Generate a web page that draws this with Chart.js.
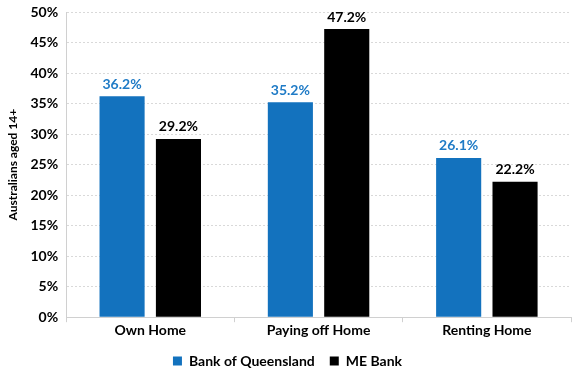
<!DOCTYPE html>
<html>
<head>
<meta charset="utf-8">
<script src="https://cdn.jsdelivr.net/npm/chart.js@4/dist/chart.umd.min.js"></script>
<style>
  html, body { margin: 0; padding: 0; background: #fff; }
  #wrap { width: 579px; height: 377px; }
</style>
</head>
<body>
<div id="wrap"><canvas id="homeChart"></canvas></div>
<script>
"use strict";
// values
let categories = ["Own Home", "Paying off Home", "Renting Home"];
let boqValues = [36.2, 35.2, 26.1];
let meValues = [29.2, 47.2, 22.2];
let seriesNames = ["Bank of Queensland", "ME Bank"];

let fontName = "Lato, 'Open Sans', sans-serif";

// draws the value above every bar, coloured like its series
let barLabels = {
  id: 'barLabels',
  afterDatasetsDraw(chart){
    let ctx = chart.ctx;
    ctx.save();
    ctx.font = "bold 14px " + fontName;
    ctx.textAlign = 'center';
    ctx.textBaseline = 'bottom';
    chart.data.datasets.forEach(function(ds, i){
      let meta = chart.getDatasetMeta(i);
      ctx.fillStyle = ds.labelColor;
      meta.data.forEach(function(bar, j){
        ctx.fillText(ds.data[j].toFixed(1) + "%", bar.x, bar.y - 5);
      });
    });
    ctx.restore();
  }
};

let ctx = document.getElementById('homeChart');
let homeChart = new Chart(ctx, {
  type: 'bar',
  data: {
    labels: categories,
    datasets: [
      {
        label: seriesNames[0],
        data: boqValues,
        backgroundColor: "#1372BE",
        labelColor: "#1F7BC6",
        barPercentage: 0.8,
        categoryPercentage: 0.67
      },
      {
        label: seriesNames[1],
        data: meValues,
        backgroundColor: "#000000",
        labelColor: "#000000",
        barPercentage: 0.8,
        categoryPercentage: 0.67
      }
    ]
  },
  options: {
    responsive: true,
    maintainAspectRatio: false,
    animation: false,
    layout: { padding: { top: 0, right: 8, left: 4, bottom: -1 } },
    plugins: {
      legend: {
        position: 'bottom',
        labels: {
          boxWidth: 9,
          boxHeight: 9,
          padding: 15,
          color: "#000",
          font: { family: fontName, size: 14, weight: 'bold' }
        }
      },
      tooltip: { enabled: false }
    },
    scales: {
      x: {
        grid: {
          drawOnChartArea: false,
          drawTicks: true,
          tickLength: 5,
          color: "#d0d0d0"
        },
        border: { color: "#d0d0d0" },
        ticks: {
          color: "#000",
          padding: 0,
          font: { family: fontName, size: 14, weight: 'bold' }
        }
      },
      y: {
        min: 0,
        max: 50,
        afterFit: function(scale){ scale.paddingTop = 12; },
        ticks: {
          stepSize: 5,
          color: "#000",
          padding: 8,
          font: { family: fontName, size: 14, weight: 'bold' },
          callback: function(v){ return v + "%"; }
        },
        grid: { color: "#d9d9d9", drawTicks: false },
        border: { color: "#d0d0d0", dash: [2, 2] },
        title: {
          display: true,
          text: "Australians aged 14+",
          color: "#000",
          padding: 2,
          font: { family: fontName, size: 12, weight: 'bold' }
        }
      }
    }
  },
  plugins: [barLabels]
});
</script>
</body>
</html>
